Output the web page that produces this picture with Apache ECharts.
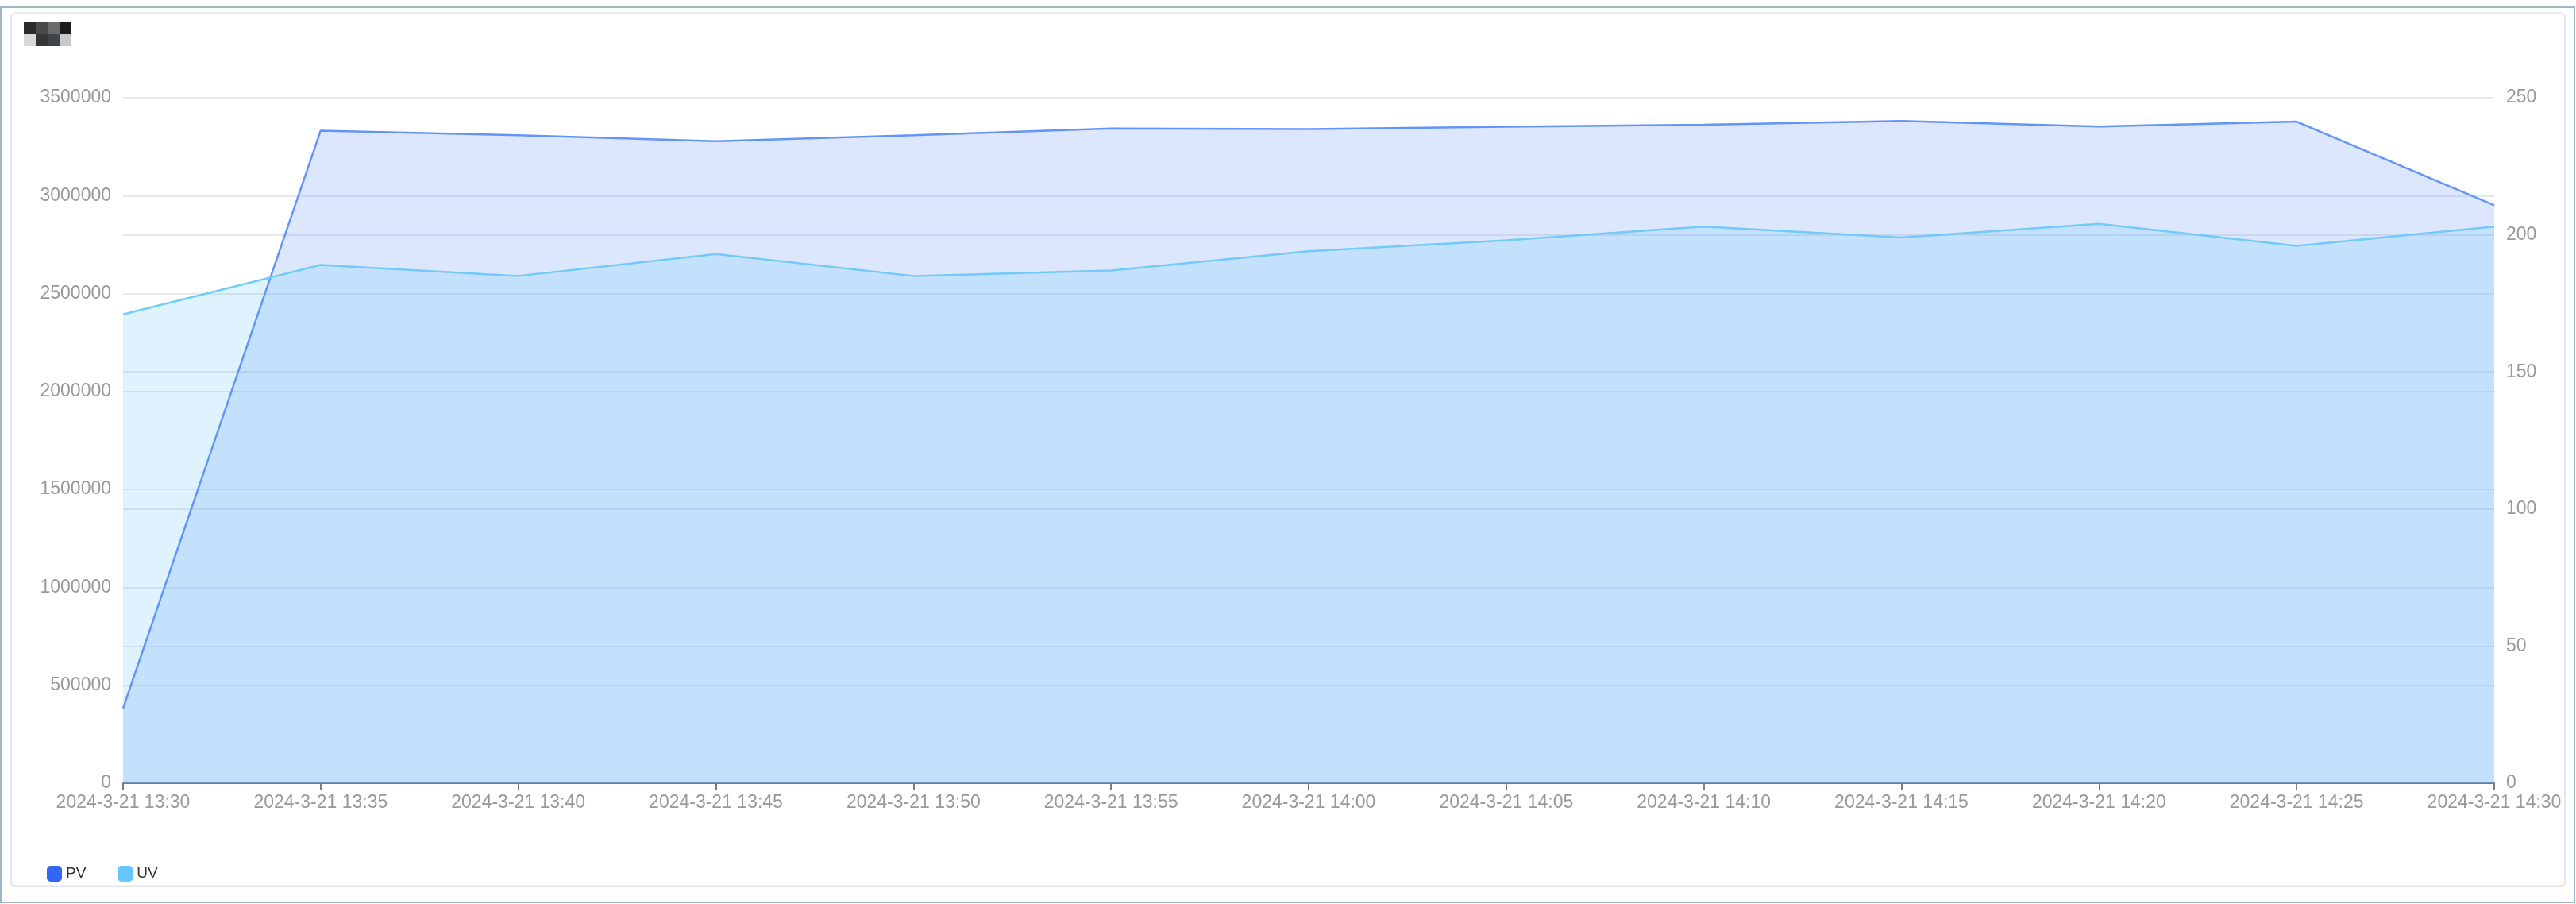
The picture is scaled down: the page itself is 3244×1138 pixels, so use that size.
<!DOCTYPE html>
<html>
<head>
<meta charset="utf-8">
<style>
html,body{margin:0;padding:0;background:#fff;}
#c{width:3244px;height:1138px;}
</style>
<script src="https://cdn.jsdelivr.net/npm/echarts@6/dist/echarts.min.js"></script>
</head>
<body>
<div id="c"></div>
<script>
const categories = ["2024-3-21 13:30","2024-3-21 13:35","2024-3-21 13:40","2024-3-21 13:45","2024-3-21 13:50","2024-3-21 13:55","2024-3-21 14:00","2024-3-21 14:05","2024-3-21 14:10","2024-3-21 14:15","2024-3-21 14:20","2024-3-21 14:25","2024-3-21 14:30"];
const pvValues = [383000, 3332000, 3308000, 3278000, 3308000, 3343000, 3340000, 3352000, 3362000, 3381000, 3353000, 3378000, 2951000];
const uvValues = [171, 189, 185, 193, 185, 187, 194, 198, 203, 199, 204, 196, 203];
const seriesNames = ["PV", "UV"];

const FONT = "'Liberation Sans', Arial, sans-serif";
const chart = echarts.init(document.getElementById('c'), null, {renderer: 'canvas'});
const splitColor = '#e6e9f1';
const labelColor = '#999999';

const pixel = [
  ['#2b2b2b','#4a4a4c','#6a6a6a','#1b1c1e'],
  ['#d8d8d8','#343537','#404446','#c8c9c8']
];
const graphics = [
  {type:'rect', z:-10, shape:{x:1, y:9, width:3241, height:1127}, style:{fill:'none', stroke:'#a3b6c4', lineWidth:2}},
  {type:'rect', z:-9, shape:{x:14, y:16.5, width:3216, height:1099, r:6}, style:{fill:'#fff', stroke:'#e4e6ed', lineWidth:2}}
];
pixel.forEach((row, r) => row.forEach((col, i) => {
  graphics.push({type:'rect', shape:{x:30 + i*15, y:28 + r*15, width:15, height:15}, style:{fill:col}});
}));

chart.setOption({
  animation: false,
  textStyle: {fontFamily: FONT},
  graphic: graphics,
  grid: {left: 155, right: 103, top: 123, bottom: 152},
  legend: {
    data: seriesNames,
    left: 54, top: 1085,
    icon: 'roundRect',
    itemWidth: 19, itemHeight: 20, itemGap: 40,
    itemStyle: {borderRadius: 3},
    textStyle: {fontSize: 19, color: '#333', fontFamily: FONT}
  },
  xAxis: {
    type: 'category',
    data: categories,
    boundaryGap: false,
    axisLine: {lineStyle: {color: '#7a7d85', width: 2}},
    axisTick: {show: true, length: 8, lineStyle: {color: '#7a7d85', width: 2}},
    axisLabel: {interval: 0, color: labelColor, fontSize: 23, margin: 13, fontFamily: FONT}
  },
  yAxis: [
    {
      type: 'value', min: 0, max: 3500000, interval: 500000,
      axisLine: {show: false}, axisTick: {show: false},
      axisLabel: {color: labelColor, fontSize: 23, margin: 15, fontFamily: FONT, formatter: v => String(v)},
      splitLine: {lineStyle: {color: splitColor, width: 2}}
    },
    {
      type: 'value', min: 0, max: 250, interval: 50, position: 'right',
      axisLine: {show: false}, axisTick: {show: false},
      axisLabel: {color: labelColor, fontSize: 23, margin: 15, fontFamily: FONT, formatter: v => String(v)},
      splitLine: {show: true, lineStyle: {color: splitColor, width: 2}}
    }
  ],
  series: [
    {
      name: seriesNames[0], type: 'line', yAxisIndex: 0, data: pvValues,
      showSymbol: false, symbol: 'none',
      itemStyle: {color: '#3366f6'},
      lineStyle: {color: 'rgba(91,143,249,0.95)', width: 2.5},
      areaStyle: {color: 'rgba(91,143,249,0.3)'}
    },
    {
      name: seriesNames[1], type: 'line', yAxisIndex: 1, data: uvValues,
      showSymbol: false, symbol: 'none',
      itemStyle: {color: '#66c5fa'},
      lineStyle: {color: 'rgba(109,200,248,0.95)', width: 2.5},
      areaStyle: {color: 'rgba(102,197,250,0.3)'}
    }
  ]
});
</script>
</body>
</html>
